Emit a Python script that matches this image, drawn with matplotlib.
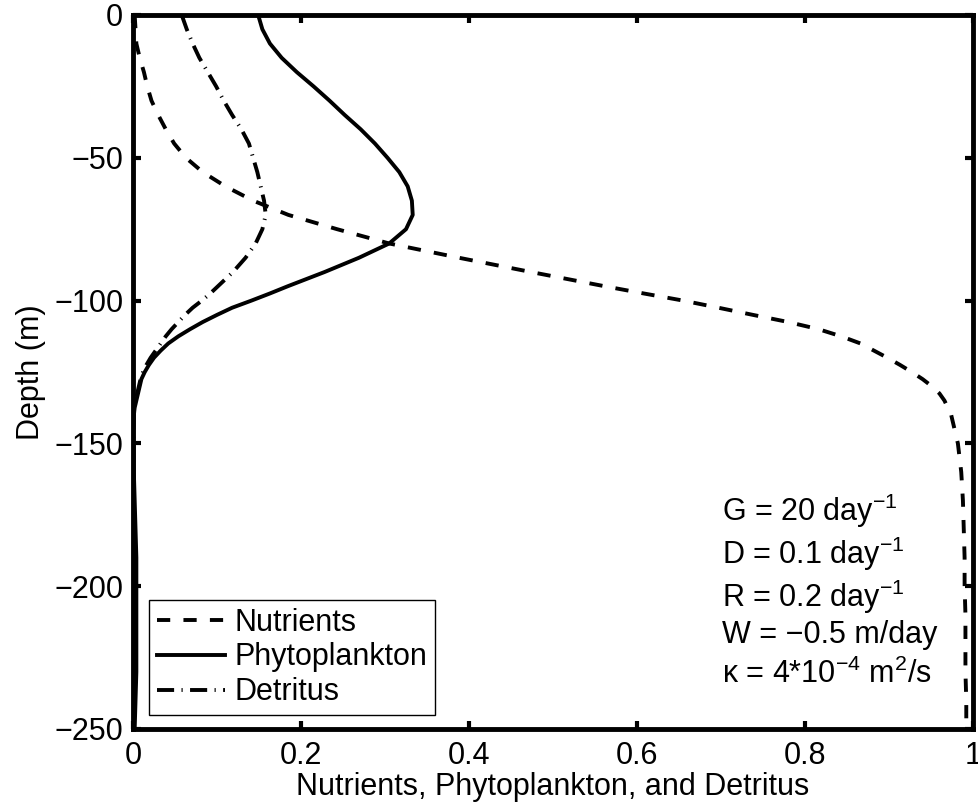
import matplotlib
matplotlib.use("Agg")
import matplotlib.pyplot as plt

# depth grid (m), finer where the profiles bend sharply
depth = [0, -5, -10, -15, -20, -25, -30, -35, -40, -45, -50, -55, -60, -65,
         -70, -75, -80, -85, -90, -95, -97.5, -100, -102.5, -105, -107.5,
         -110, -112.5, -115, -117.5, -120, -122.5, -125, -127.5, -130,
         -132.5, -135, -137.5, -140, -145, -150, -160, -170, -180, -190,
         -200, -210, -220, -230, -240, -250]

nutrients = [0.002, 0.003, 0.004, 0.008, 0.013, 0.017, 0.022, 0.030, 0.039,
             0.049, 0.063, 0.083, 0.110, 0.143, 0.185, 0.243, 0.305, 0.388,
             0.474, 0.562, 0.608, 0.655, 0.697, 0.738, 0.780, 0.816, 0.843,
             0.866, 0.882, 0.898, 0.913, 0.927, 0.940, 0.951, 0.960, 0.966,
             0.970, 0.974, 0.978, 0.982, 0.986, 0.988, 0.989, 0.990, 0.990,
             0.991, 0.991, 0.991, 0.992, 0.992]

phyto = [0.149, 0.154, 0.163, 0.177, 0.195, 0.215, 0.234, 0.252, 0.271,
         0.288, 0.303, 0.317, 0.327, 0.332, 0.333, 0.325, 0.305, 0.269,
         0.228, 0.184, 0.163, 0.141, 0.118, 0.100, 0.083, 0.068, 0.054,
         0.042, 0.033, 0.025, 0.019, 0.014, 0.010, 0.008, 0.006, 0.004,
         0.002, 0.001, 0.0005, 0.0005, 0.001, 0.002, 0.003, 0.004, 0.004,
         0.004, 0.004, 0.004, 0.003, 0.002]

detritus = [0.058, 0.064, 0.071, 0.079, 0.089, 0.099, 0.108, 0.118, 0.129,
            0.138, 0.143, 0.148, 0.152, 0.156, 0.158, 0.154, 0.146, 0.134,
            0.119, 0.101, 0.092, 0.082, 0.071, 0.062, 0.054, 0.046, 0.039,
            0.033, 0.027, 0.021, 0.016, 0.012, 0.009, 0.007, 0.005, 0.003,
            0.002, 0.001, 0.0005, 0.0005, 0.0005, 0.0005, 0.0005, 0.0005,
            0.0005, 0.0005, 0.0005, 0.0005, 0.0005, 0.0005]

xticks = [0, 0.2, 0.4, 0.6, 0.8, 1]
xticklabels = ["0", "0.2", "0.4", "0.6", "0.8", "1"]
yticks = [0, -50, -100, -150, -200, -250]
yticklabels = ["0", "\u221250", "\u2212100", "\u2212150", "\u2212200", "\u2212250"]

params = [r"G = 20 day$^{-1}$",
          r"D = 0.1 day$^{-1}$",
          r"R = 0.2 day$^{-1}$",
          "W = \u22120.5 m/day",
          "\u03ba = 4*10$^{-4}$ m$^2$/s"]

plt.rcParams['font.family'] = ['Liberation Sans', 'DejaVu Sans']
plt.rcParams['mathtext.fontset'] = 'custom'
plt.rcParams['mathtext.rm'] = 'Liberation Sans'
plt.rcParams['mathtext.it'] = 'Liberation Sans:italic'
plt.rcParams['mathtext.bf'] = 'Liberation Sans:bold'
plt.rcParams['mathtext.default'] = 'regular'

fs = 22
fig = plt.figure(figsize=(9.79, 8.08), dpi=100)
ax = fig.add_axes([133/979, 1 - 729/808, 840/979, 714/808])

lw = 2.8
ax.plot(nutrients, depth, color='k', lw=lw, dashes=(3.4, 3.4), label='Nutrients')
ax.plot(phyto, depth, color='k', lw=lw, label='Phytoplankton')
ax.plot(detritus, depth, color='k', lw=lw, dashes=(4.4, 1.9, 0.3, 1.9), label='Detritus')

ax.set_xlim(0, 1)
ax.set_ylim(-250, 0)
ax.set_xticks(xticks)
ax.set_xticklabels(xticklabels)
ax.set_yticks(yticks)
ax.set_yticklabels(yticklabels)
ax.tick_params(axis='both', direction='in', top=True, right=True, length=6,
               width=3, labelsize=fs)
ax.tick_params(axis='y', pad=7)
ax.tick_params(axis='x', pad=9)
for s in ax.spines.values():
    s.set_linewidth(3.5)

ax.set_xlabel("Nutrients, Phytoplankton, and Detritus", fontsize=fs, labelpad=0)
ax.set_ylabel("Depth (m)", fontsize=fs, labelpad=6)

leg = ax.legend(loc='lower left', bbox_to_anchor=(0.019, 0.0196), borderaxespad=0,
                fontsize=fs, handlelength=2.25, handletextpad=0.3,
                labelspacing=0.16, borderpad=0.25, fancybox=False, framealpha=1)
leg.get_frame().set_edgecolor('k')
leg.get_frame().set_linewidth(1.0)

# parameter annotation, one line per entry
base_px = [521, 564, 607, 643, 683]
for txt, py in zip(params, base_px):
    ax.text((722 - 133) / 840, (729 - py) / 714, txt, transform=ax.transAxes,
            fontsize=fs, ha='left', va='baseline')

fig.savefig("out.png", dpi=100)
